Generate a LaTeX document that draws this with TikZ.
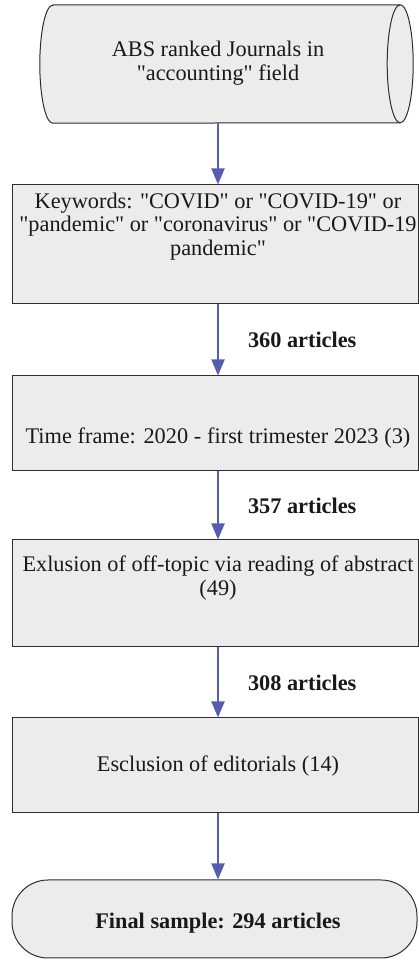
\documentclass[tikz,border=0pt]{standalone}
\usepackage{fontspec}
\setmainfont{Liberation Serif}[Ligatures=TeXOff]
\usetikzlibrary{arrows.meta}
\definecolor{boxfill}{RGB}{236,236,236}
\definecolor{boxline}{RGB}{45,45,45}
\definecolor{arrowblue}{RGB}{88,92,176}
\definecolor{txt}{RGB}{25,25,25}
\tikzset{
  x=1pt, y=1pt,
  stepbox/.style={draw=boxline, fill=boxfill, line width=1pt, rectangle, inner sep=0pt, minimum width=406pt},
  endbox/.style={draw=boxline, fill=boxfill, line width=1pt, rectangle, rounded corners=36pt, inner sep=0pt},
  txtnode/.style={align=center, inner sep=0pt, text=txt, font=\fontsize{22.3}{23.5}\selectfont},
  lbl/.style={midway, anchor=west, xshift=29pt, inner sep=0pt, text=txt, font=\fontsize{22.3}{23.5}\selectfont\bfseries},
  arr/.style={draw=arrowblue, line width=2pt, -{Triangle[width=13pt,length=16pt]}, arrowblue}
}
\begin{document}
\begin{tikzpicture}
\useasboundingbox (0,0) rectangle (419,960);
% top storage shape
\node[draw=none, inner sep=0pt, minimum width=347pt, minimum height=118pt] (b1) at (226.5,896) {};
\draw[draw=boxline, fill=boxfill, line width=1pt]
  (b1.north west) -- (b1.north east)
  arc[start angle=90, end angle=-90, x radius=13pt, y radius=59pt]
  -- (b1.south west)
  arc[start angle=270, end angle=90, x radius=13pt, y radius=59pt] -- cycle;
\draw[draw=boxline, line width=1pt] (b1.north east)
  arc[start angle=90, end angle=270, x radius=13pt, y radius=59pt];
% boxes
\node[stepbox, minimum height=119pt] (b2) at (215.25,715.5) {};
\node[stepbox, minimum height=95pt] (b3) at (215.25,536.5) {};
\node[stepbox, minimum height=107pt] (b4) at (215.25,366.5) {};
\node[stepbox, minimum height=95pt] (b5) at (215.25,194.5) {};
\node[endbox, minimum width=405pt, minimum height=78pt] (b6) at (214.5,41) {};
% texts
\node[txtnode] (t1) at (218,897) {ABS ranked Journals in\\"accounting" field};
\node[txtnode] (t2) at (218,733.5) {Keywords: "COVID" or "COVID-19" or\\"pandemic" or "coronavirus" or "COVID-19\\pandemic"};
\node[txtnode] (t3) at (218,521.5) {\spaceskip=5.8pt\relax Time frame: 2020 - first trimester 2023 (3)};
\node[txtnode] (t4) at (218,382) {Exlusion of off-topic via reading of abstract\\(49)};
\node[txtnode] (t5) at (218,194) {Esclusion of editorials (14)};
\node[txtnode, font=\fontsize{22.3}{23.5}\selectfont\bfseries] (t6) at (218,37) {Final sample: 294 articles};
% arrows
\draw[arr] (t1 |- b1.south) -- (t1 |- b2.north);
\draw[arr] (t1 |- b2.south) -- node[lbl] {360 articles} (t1 |- b3.north);
\draw[arr] (t1 |- b3.south) -- node[lbl] {357 articles} (t1 |- b4.north);
\draw[arr] (t1 |- b4.south) -- node[lbl] {308 articles} (t1 |- b5.north);
\draw[arr] (t1 |- b5.south) -- (t1 |- b6.north);
\end{tikzpicture}
\end{document}
